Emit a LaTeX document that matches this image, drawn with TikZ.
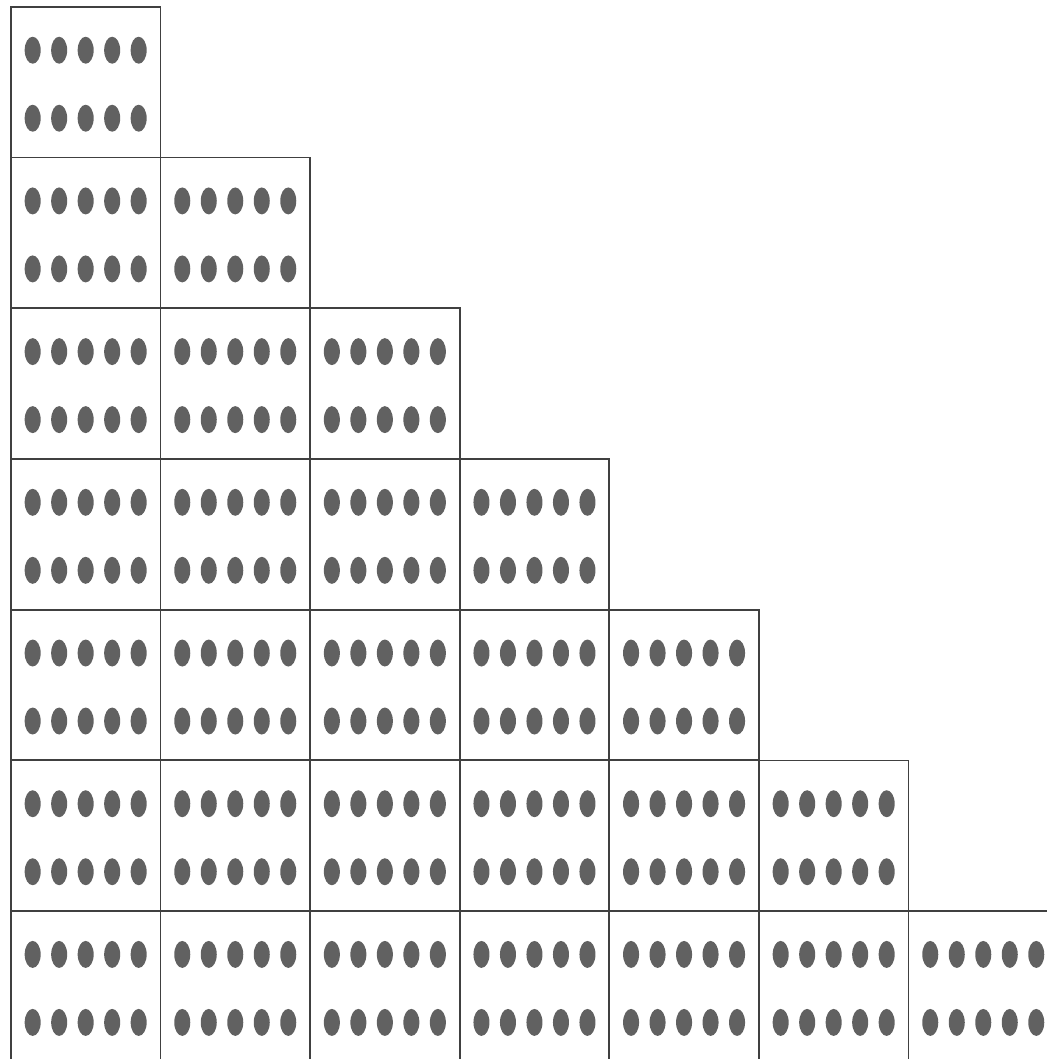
\documentclass[tikz,border=0pt]{standalone}
\usetikzlibrary{positioning}
\begin{document}
\begin{tikzpicture}[
  x=0.02cm, y=-0.02cm,
  frame/.style={draw=black!75, line width=1pt, minimum width=2.992cm,
                minimum height=3.014cm, inner sep=0pt, anchor=north west},
  bead/.style={fill=black!62}
]
  \useasboundingbox (0,0) rectangle (1046,1059);

  % staircase of ten-frames: row r holds r boxes
  \foreach \r in {1,...,7}{
    \foreach \c in {1,...,\r}{
      \node[frame] (box-\r-\c) at ({10+(\c-1)*149.6},{6+(\r-1)*150.7}) {};
      \foreach \k in {-2,...,2}{
        \fill[bead] ([shift={(\k*26.5,36)}]box-\r-\c.center) ellipse [x radius=0.16cm, y radius=0.27cm];
        \fill[bead] ([shift={(\k*26.5,-32)}]box-\r-\c.center) ellipse [x radius=0.16cm, y radius=0.27cm];
      }
    }
  }
\end{tikzpicture}
\end{document}
